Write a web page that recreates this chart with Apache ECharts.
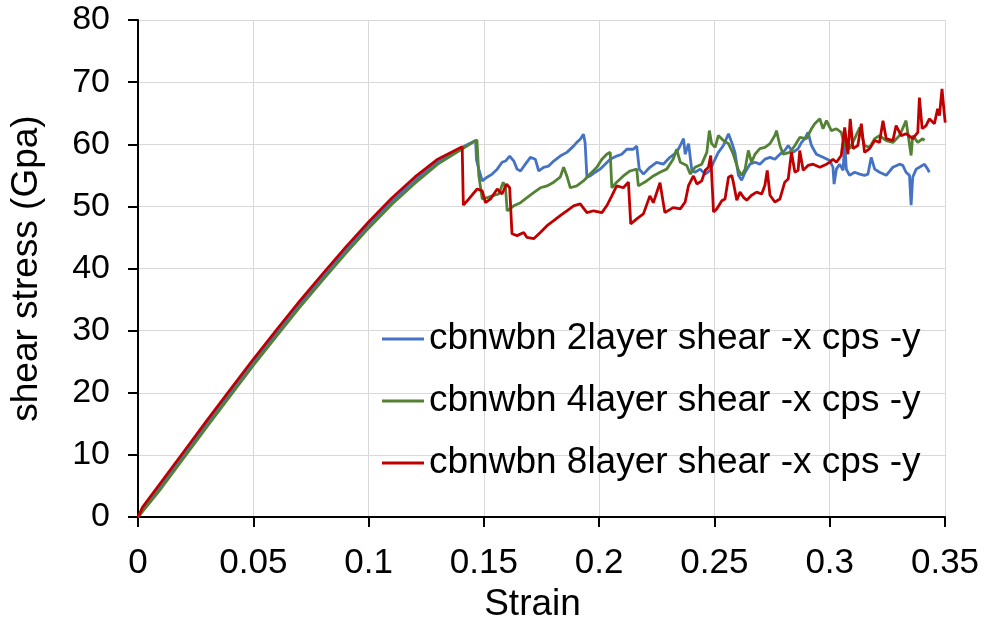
<!DOCTYPE html>
<html style="height: 100%">
<head>
    <meta charset="utf-8">
    <title>shear stress - strain</title>
    <script src="https://cdn.jsdelivr.net/npm/echarts/dist/echarts.min.js"></script>
</head>
<body style="height: 100%; margin: 0; background: #fff">
    <div id="main" style="width: 985px; height: 628px"></div>
    <script type="text/javascript">
        // names of the three runs
        var seriesNames = [
            'cbnwbn 2layer shear -x cps -y',
            'cbnwbn 4layer shear -x cps -y',
            'cbnwbn 8layer shear -x cps -y'
        ];
        var seriesColors = ['#4472C4', '#548235', '#C00000'];

        // [strain, shear stress (Gpa)]
        var layer2 = [
            [0, 0], [0.01, 5.0], [0.02, 10.1], [0.03, 15.1], [0.04, 20.0], [0.05, 24.9], [0.06, 29.6],
            [0.07, 34.2], [0.08, 38.6], [0.09, 42.9], [0.1, 47.0], [0.11, 50.8], [0.12, 54.2],
            [0.13, 57.2], [0.14, 59.4], [0.1464, 60.6], [0.1468, 57.5], [0.1478, 56.0], [0.1493, 54.1],
            [0.15, 54.1], [0.1514, 54.7], [0.1536, 55.2], [0.1558, 56.0], [0.1579, 57.1], [0.1594, 57.3],
            [0.1612, 58.1], [0.163, 57.3], [0.1644, 56.0], [0.1659, 55.7], [0.168, 56.8], [0.1702, 57.9],
            [0.1723, 57.6], [0.1738, 55.7], [0.1759, 56.3], [0.1781, 56.5], [0.1803, 57.3], [0.1831, 58.1],
            [0.186, 58.7], [0.1889, 59.7], [0.1903, 60.3], [0.1918, 60.8], [0.1932, 61.6], [0.1939, 60.3],
            [0.1947, 54.7], [0.1961, 54.9], [0.1983, 55.5], [0.2004, 56.0], [0.2026, 56.8], [0.2048, 57.6],
            [0.2076, 58.1], [0.2098, 58.4], [0.212, 59.2], [0.2148, 59.2], [0.2163, 59.7], [0.2174, 56.0],
            [0.2192, 55.2], [0.222, 56.3], [0.2249, 57.1], [0.2278, 56.8], [0.2307, 57.9], [0.2336, 58.7],
            [0.2352, 59.8], [0.2366, 60.9], [0.2373, 58.4], [0.2388, 60.1], [0.2402, 55.8], [0.2416, 55.5],
            [0.2438, 56.0], [0.246, 55.2], [0.2481, 55.8], [0.2496, 57.1], [0.2517, 58.7], [0.2539, 59.8],
            [0.2561, 61.7], [0.2575, 60.3], [0.2589, 58.7], [0.2604, 55.0], [0.2618, 54.2], [0.2633, 55.5],
            [0.2654, 56.8], [0.2676, 57.1], [0.2697, 56.8], [0.2719, 57.6], [0.2741, 57.9], [0.2762, 57.6],
            [0.2784, 58.4], [0.2805, 59.0], [0.282, 59.8], [0.2841, 58.7], [0.2863, 59.3], [0.2878, 60.3],
            [0.2892, 60.9], [0.2906, 61.9], [0.2921, 59.8], [0.2942, 58.4], [0.2971, 57.9], [0.3, 57.4],
            [0.3014, 56.3], [0.3019, 53.6], [0.3029, 56.0], [0.3043, 56.8], [0.3058, 55.8], [0.3065, 60.3],
            [0.3072, 56.0], [0.3086, 55.0], [0.3108, 55.5], [0.313, 55.2], [0.3151, 55.0], [0.3166, 55.2],
            [0.318, 57.9], [0.3195, 56.0], [0.3216, 55.5], [0.3245, 55.0], [0.3274, 56.3], [0.3303, 56.8],
            [0.3317, 56.6], [0.3331, 55.5], [0.3346, 55.0], [0.3353, 50.2], [0.336, 54.7], [0.3375, 56.0],
            [0.3389, 56.3], [0.3411, 56.8], [0.3425, 56.0], [0.3432, 55.5]
        ];

        var layer4 = [
            [0, 0], [0.01, 4.6], [0.02, 9.6], [0.03, 14.6], [0.04, 19.5], [0.05, 24.4], [0.06, 29.1],
            [0.07, 33.7], [0.08, 38.1], [0.09, 42.4], [0.1, 46.5], [0.11, 50.3], [0.12, 53.7],
            [0.13, 56.8], [0.14, 59.1], [0.147, 60.7], [0.1478, 55.0], [0.1493, 51.2], [0.1514, 51.4],
            [0.1536, 51.7], [0.1565, 52.0], [0.1584, 53.9], [0.1594, 53.0], [0.1601, 49.3], [0.163, 50.1],
            [0.1659, 50.6], [0.1687, 51.4], [0.1716, 52.2], [0.1745, 53.0], [0.1774, 53.3], [0.1803, 53.9],
            [0.1831, 54.7], [0.1846, 56.3], [0.186, 54.9], [0.1875, 53.0], [0.1903, 53.3], [0.1932, 54.1],
            [0.1961, 55.2], [0.199, 56.3], [0.2012, 57.6], [0.2033, 58.4], [0.2048, 58.7], [0.2055, 53.0],
            [0.2076, 53.9], [0.2105, 54.9], [0.2134, 55.7], [0.2163, 56.0], [0.217, 53.3], [0.2206, 54.1],
            [0.2235, 54.9], [0.2264, 55.5], [0.2293, 56.0], [0.2321, 57.6], [0.2336, 59.2], [0.2352, 57.1],
            [0.238, 56.6], [0.2395, 55.2], [0.2416, 56.3], [0.2445, 56.8], [0.2467, 58.7], [0.2478, 62.2],
            [0.2488, 60.1], [0.2503, 59.5], [0.2517, 61.4], [0.2539, 60.6], [0.2561, 60.1], [0.2582, 58.4],
            [0.2604, 55.8], [0.2618, 55.0], [0.2633, 56.0], [0.2647, 59.0], [0.2661, 57.1], [0.2676, 58.4],
            [0.2697, 59.3], [0.2719, 59.5], [0.2741, 60.1], [0.2762, 61.4], [0.2769, 62.2], [0.2784, 59.8],
            [0.2798, 58.4], [0.2827, 58.7], [0.2849, 59.8], [0.287, 61.1], [0.2899, 60.9], [0.2921, 62.5],
            [0.2935, 63.3], [0.2957, 64.1], [0.2971, 62.5], [0.2986, 63.8], [0.3007, 62.2], [0.3029, 62.5],
            [0.305, 61.9], [0.3065, 59.8], [0.3086, 59.3], [0.3108, 60.9], [0.313, 62.7], [0.3151, 59.8],
            [0.3173, 59.5], [0.3195, 60.9], [0.3216, 61.4], [0.3245, 60.6], [0.3274, 60.3], [0.3303, 61.4],
            [0.3331, 63.8], [0.3353, 58.2], [0.336, 61.4], [0.3382, 60.3], [0.3403, 60.9], [0.3411, 60.6]
        ];

        var layer8 = [
            [0, 0], [0.002, 1.6], [0.01, 5.6], [0.02, 10.6], [0.03, 15.6], [0.04, 20.5], [0.05, 25.4],
            [0.06, 30.1], [0.07, 34.7], [0.08, 39.1], [0.09, 43.4], [0.1, 47.5], [0.11, 51.3],
            [0.12, 54.7], [0.13, 57.6], [0.1406, 59.6], [0.1411, 50.2], [0.1435, 51.2], [0.1471, 52.8],
            [0.1493, 52.5], [0.1507, 50.6], [0.1529, 51.2], [0.1558, 52.8], [0.1579, 52.0], [0.1598, 53.6],
            [0.1612, 53.0], [0.1622, 45.6], [0.1644, 45.3], [0.1673, 45.8], [0.1687, 45.0], [0.1716, 44.8],
            [0.1745, 45.8], [0.1774, 46.9], [0.1803, 47.7], [0.1831, 48.5], [0.186, 49.3], [0.1889, 50.1],
            [0.1918, 50.4], [0.1947, 49.0], [0.1976, 49.3], [0.2012, 49.0], [0.2033, 50.1], [0.2055, 51.7],
            [0.2076, 53.3], [0.2105, 53.0], [0.2127, 53.9], [0.2137, 47.2], [0.2163, 48.0], [0.2192, 48.8],
            [0.222, 51.7], [0.2235, 50.6], [0.2264, 53.8], [0.2285, 49.0], [0.2321, 49.8], [0.2352, 49.6],
            [0.2373, 50.7], [0.2388, 53.4], [0.2409, 54.9], [0.2424, 53.6], [0.2445, 54.1], [0.246, 55.8],
            [0.2474, 56.3], [0.2484, 58.2], [0.2496, 49.1], [0.251, 49.6], [0.2532, 50.9], [0.2546, 51.2],
            [0.2561, 54.7], [0.2575, 55.0], [0.2582, 53.9], [0.2597, 51.0], [0.2611, 52.3], [0.2625, 51.5],
            [0.264, 51.0], [0.2661, 51.8], [0.2683, 52.3], [0.2705, 52.0], [0.2719, 53.4], [0.2729, 55.8],
            [0.2741, 51.8], [0.2762, 50.7], [0.2784, 51.2], [0.2805, 53.9], [0.282, 54.4], [0.2834, 58.7],
            [0.2849, 55.5], [0.2863, 55.8], [0.287, 59.0], [0.2885, 55.8], [0.2906, 56.6], [0.2928, 56.8],
            [0.2957, 56.3], [0.2986, 56.8], [0.3, 57.1], [0.3014, 57.6], [0.3029, 57.1], [0.305, 58.2],
            [0.3065, 62.7], [0.3079, 58.4], [0.3089, 64.1], [0.3101, 59.3], [0.3122, 59.8], [0.3137, 63.3],
            [0.3151, 58.7], [0.3173, 59.3], [0.3195, 60.6], [0.3216, 60.3], [0.3231, 63.8], [0.3245, 60.9],
            [0.3274, 60.6], [0.3288, 63.0], [0.331, 61.4], [0.3331, 61.7], [0.336, 60.9], [0.3382, 61.9],
            [0.3389, 67.5], [0.3401, 62.5], [0.3418, 63.0], [0.3432, 64.1], [0.3454, 63.3], [0.3468, 65.7],
            [0.3476, 64.6], [0.3487, 68.9], [0.3497, 64.9], [0.3501, 63.5]
        ];

        var allData = [layer2, layer4, layer8];

        var font = '"Liberation Sans", Arial, sans-serif';
        var myChart = echarts.init(document.getElementById('main'));

        var series = allData.map(function (d, i) {
            return {
                name: seriesNames[i],
                type: 'line',
                data: d,
                showSymbol: false,
                symbol: 'none',
                lineStyle: { color: seriesColors[i], width: 2.8 },
                itemStyle: { color: seriesColors[i] }
            };
        });

        var option = {
            animation: false,
            backgroundColor: '#fff',
            grid: { left: 137, right: 40, top: 20, bottom: 109 },
            legend: {
                orient: 'vertical',
                left: 377,
                top: 314,
                itemWidth: 42,
                itemHeight: 3,
                itemGap: 22,
                icon: 'rect',
                textStyle: { fontFamily: font, fontSize: 37, color: '#000', lineHeight: 40 },
                data: seriesNames
            },
            xAxis: {
                type: 'value',
                min: 0,
                max: 0.35,
                interval: 0.05,
                name: 'Strain',
                nameLocation: 'middle',
                nameGap: 68,
                nameTextStyle: { fontFamily: font, fontSize: 37, color: '#000', padding: [0, 18, 0, 0] },
                axisLine: { lineStyle: { color: '#000', width: 2 } },
                axisTick: { show: true, inside: false, length: 10, lineStyle: { color: '#000', width: 2 } },
                axisLabel: { fontFamily: font, fontSize: 35, color: '#000', margin: 29 },
                splitLine: { show: true, lineStyle: { color: '#D9D9D9', width: 1 } }
            },
            yAxis: {
                type: 'value',
                min: 0,
                max: 80,
                interval: 10,
                name: 'shear stress (Gpa)',
                nameLocation: 'middle',
                nameGap: 93,
                nameTextStyle: { fontFamily: font, fontSize: 37, color: '#000' },
                axisLine: { show: true, lineStyle: { color: '#000', width: 2 } },
                axisTick: { show: true, inside: false, length: 10, lineStyle: { color: '#000', width: 2 } },
                axisLabel: { fontFamily: font, fontSize: 34, color: '#000', margin: 28 },
                splitLine: { show: true, lineStyle: { color: '#D9D9D9', width: 1 } }
            },
            series: series
        };

        myChart.setOption(option);
    </script>
</body>
</html>
